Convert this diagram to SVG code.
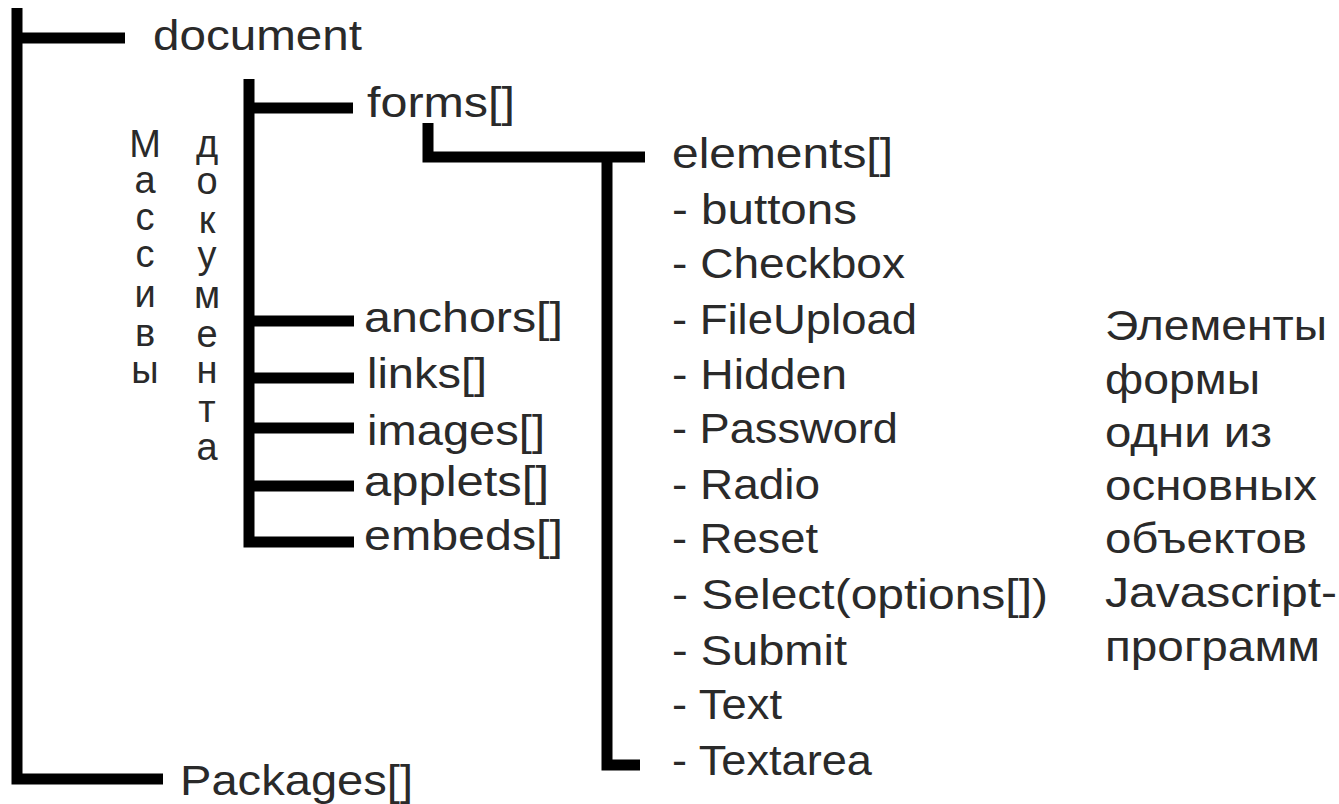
<svg xmlns="http://www.w3.org/2000/svg" width="1339" height="804" viewBox="0 0 1339 804">
<style>
.t{font-family:"Liberation Sans",Arial,sans-serif;font-size:42px;fill:#2a2a2a}
.v{font-family:"Liberation Sans",Arial,sans-serif;font-size:38px;fill:#2a2a2a;text-anchor:middle}
.c{fill:none;stroke:#000;stroke-width:11;stroke-linejoin:miter;stroke-linecap:butt}
</style>
<rect width="1339" height="804" fill="#fff"/>
<g id="connectors">
<path class="c" d="M17,8 V779 H163"/>
<path class="c" d="M17,38 H125"/>
<path class="c" d="M249,79 V542 H354"/>
<path class="c" d="M249,108 H353"/>
<path class="c" d="M249,321 H354"/>
<path class="c" d="M249,378 H354"/>
<path class="c" d="M249,428 H354"/>
<path class="c" d="M249,486 H354"/>
<path class="c" d="M428,123 V157 H645"/>
<path class="c" d="M607,157 V765 H640"/>
</g>
<g id="document"><text class="t" x="153" y="50" textLength="209" lengthAdjust="spacingAndGlyphs">document</text></g>
<g id="packages"><text class="t" x="180" y="795" textLength="233" lengthAdjust="spacingAndGlyphs">Packages[]</text></g>
<g id="forms"><text class="t" x="367" y="117" textLength="148" lengthAdjust="spacingAndGlyphs">forms[]</text></g>
<g id="anchors"><text class="t" x="364" y="332" textLength="199" lengthAdjust="spacingAndGlyphs">anchors[]</text></g>
<g id="links"><text class="t" x="367" y="388" textLength="120" lengthAdjust="spacingAndGlyphs">links[]</text></g>
<g id="images"><text class="t" x="367" y="445" textLength="178" lengthAdjust="spacingAndGlyphs">images[]</text></g>
<g id="applets"><text class="t" x="364" y="496" textLength="185" lengthAdjust="spacingAndGlyphs">applets[]</text></g>
<g id="embeds"><text class="t" x="364" y="550" textLength="199" lengthAdjust="spacingAndGlyphs">embeds[]</text></g>
<g id="label-massivy"><text class="v"><tspan x="145" y="157">М</tspan><tspan x="145" y="193">а</tspan><tspan x="145" y="230">с</tspan><tspan x="145" y="267">с</tspan><tspan x="145" y="307">и</tspan><tspan x="145" y="346">в</tspan><tspan x="145" y="383">ы</tspan></text></g>
<g id="label-dokumenta"><text class="v"><tspan x="207" y="157">д</tspan><tspan x="207" y="194">о</tspan><tspan x="207" y="233">к</tspan><tspan x="207" y="268">у</tspan><tspan x="207" y="308">м</tspan><tspan x="207" y="347">е</tspan><tspan x="207" y="383">н</tspan><tspan x="207" y="422">т</tspan><tspan x="207" y="460">а</tspan></text></g>
<g id="elements">
<text class="t" x="672" y="168" textLength="221" lengthAdjust="spacingAndGlyphs">elements[]</text>
<text class="t" x="672" y="224" textLength="185" lengthAdjust="spacingAndGlyphs">- buttons</text>
<text class="t" x="672" y="278" textLength="233" lengthAdjust="spacingAndGlyphs">- Checkbox</text>
<text class="t" x="672" y="334" textLength="245" lengthAdjust="spacingAndGlyphs">- FileUpload</text>
<text class="t" x="672" y="389" textLength="175" lengthAdjust="spacingAndGlyphs">- Hidden</text>
<text class="t" x="672" y="443" textLength="226" lengthAdjust="spacingAndGlyphs">- Password</text>
<text class="t" x="672" y="499" textLength="148" lengthAdjust="spacingAndGlyphs">- Radio</text>
<text class="t" x="672" y="553" textLength="146" lengthAdjust="spacingAndGlyphs">- Reset</text>
<text class="t" x="672" y="609" textLength="376" lengthAdjust="spacingAndGlyphs">- Select(options[])</text>
<text class="t" x="672" y="665" textLength="175" lengthAdjust="spacingAndGlyphs">- Submit</text>
<text class="t" x="672" y="719" textLength="110" lengthAdjust="spacingAndGlyphs">- Text</text>
<text class="t" x="672" y="775" textLength="200" lengthAdjust="spacingAndGlyphs">- Textarea</text>
</g>
<g id="note">
<text class="t" x="1105" y="340" textLength="222" lengthAdjust="spacingAndGlyphs">Элементы</text>
<text class="t" x="1105" y="394" textLength="155" lengthAdjust="spacingAndGlyphs">формы</text>
<text class="t" x="1105" y="447" textLength="167" lengthAdjust="spacingAndGlyphs">одни из</text>
<text class="t" x="1105" y="500" textLength="212" lengthAdjust="spacingAndGlyphs">основных</text>
<text class="t" x="1105" y="553" textLength="202" lengthAdjust="spacingAndGlyphs">объектов</text>
<text class="t" x="1105" y="607" textLength="232" lengthAdjust="spacingAndGlyphs">Javascript-</text>
<text class="t" x="1105" y="661" textLength="215" lengthAdjust="spacingAndGlyphs">программ</text>
</g>
</svg>
